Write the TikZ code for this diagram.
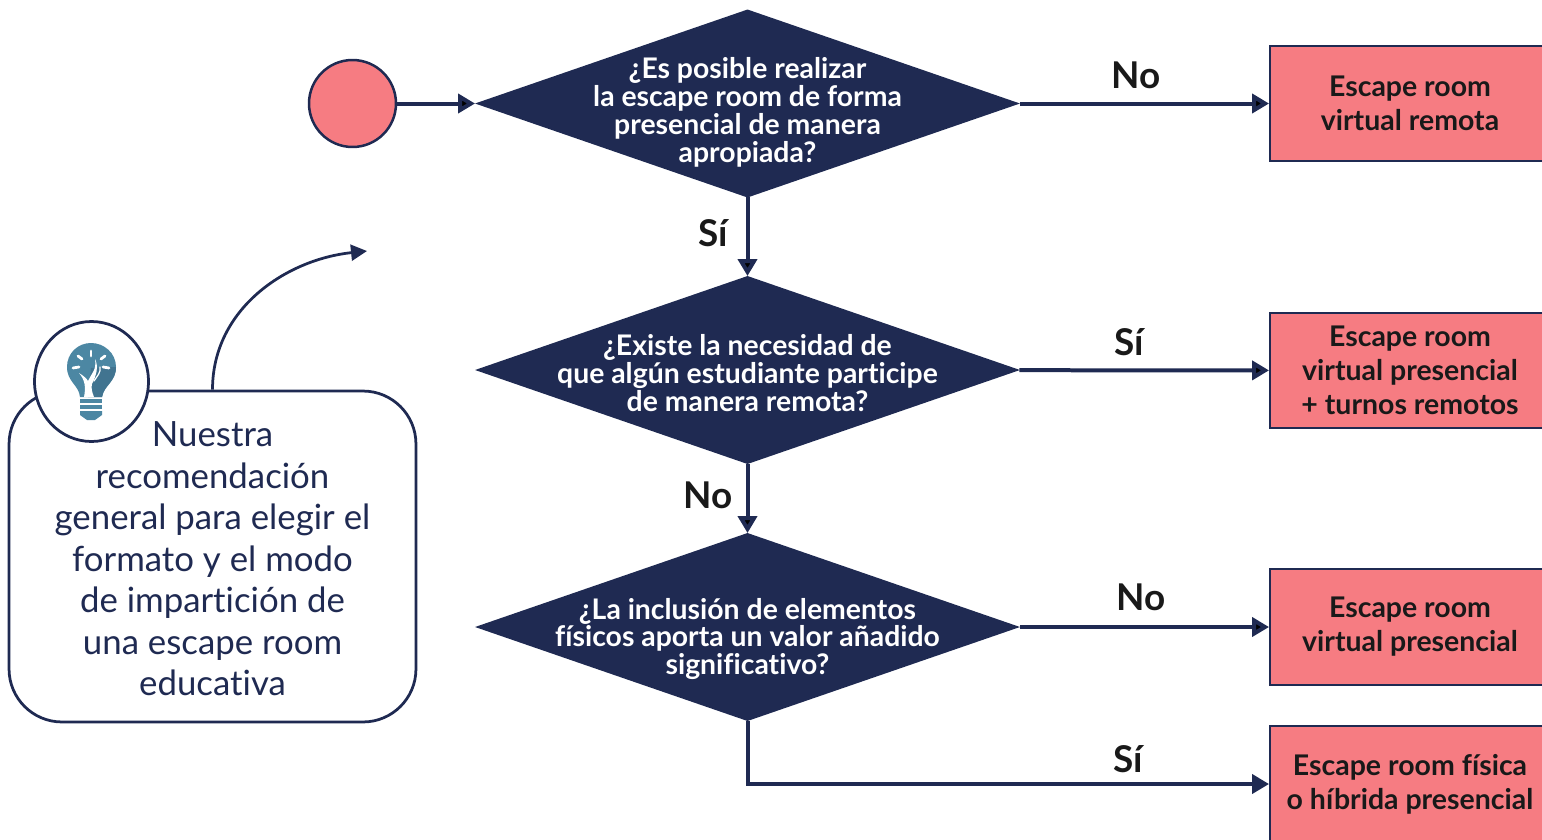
\documentclass[tikz,border=0pt]{standalone}
\usepackage{fontspec}
\setmainfont{Lato}[Ligatures=NoCommon]
\usepackage{tikz}
\usetikzlibrary{arrows.meta,shapes.geometric}

\definecolor{navy}{HTML}{1F2A52}
\definecolor{salmon}{HTML}{F67C82}
\definecolor{bulbteal}{HTML}{4C87A3}
\definecolor{bulbdark}{HTML}{417490}

\tikzset{
	flow/.style={-{Triangle[length=0.34cm,width=0.38cm]}, line width=0.08cm, draw=navy},
	decision/.style={shape=diamond, fill=navy, draw=none, inner sep=0pt, outer sep=0pt, minimum width=10.9cm, minimum height=3.76cm},
	decisiontext/.style={text=white, align=center, font=\fontsize{16.15}{15.9}\selectfont\bfseries},
	result/.style={shape=rectangle, fill=salmon, draw=navy, line width=0.04cm, minimum width=5.6cm, minimum height=2.32cm, align=center, text=black!90, font=\fontsize{16.2}{19.3}\selectfont\bfseries},
	answer/.style={text=black!90, font=\fontsize{21}{24}\selectfont\bfseries},
	notetext/.style={text=navy, align=center, font=\fontsize{19.8}{23.6}\selectfont},
}

\begin{document}
\begin{tikzpicture}[x=0.02cm, y=-0.02cm]
	
	\useasboundingbox (0, 0) rectangle (1542, 839);
	
	\node[shape=circle, fill=salmon, draw=navy, line width=0.05cm, inner sep=0pt, minimum size=1.74cm] (start) at (352.5, 103.5) {};
	
	\node[decision, label={[decisiontext, yshift=-0.18cm]center:{¿Es posible realizar\\la escape room de forma\\presencial de manera\\apropiada?}}] (q1) at (747.5, 103.5) {};
	\node[decision, label={[decisiontext, yshift=-0.07cm]center:{¿Existe la necesidad de\\que algún estudiante participe\\de manera remota?}}] (q2) at (747.5, 370) {};
	\node[decision, label={[decisiontext, yshift=-0.24cm]center:{¿La inclusión de elementos\\físicos aporta un valor añadido\\significativo?}}] (q3) at (747.5, 627) {};
	
	\node[result] (r1) at (1410, 103.5) {Escape room\\virtual remota};
	\node[result] (r2) at (1410, 370.5) {Escape room\\virtual presencial\\+ turnos remotos};
	\node[result] (r3) at (1410, 627) {Escape room\\virtual presencial};
	\node[result] (r4) at (1410, 784) {Escape room física\\o híbrida presencial};
	
	\path[flow] (start) edge (q1);
	\path[flow] (q1) edge node[answer, above, pos=0.465, yshift=0.14cm]{No} (r1);
	\path[flow] (q2) edge node[answer, above, pos=0.44, yshift=0.13cm]{Sí} (r2);
	\path[flow] (q3) edge node[answer, above, pos=0.485, yshift=0.16cm]{No} (r3);
	\path[flow] (q1) edge node[answer, left, pos=0.45, xshift=-0.24cm]{Sí} (q2);
	\path[flow] (q2) edge node[answer, left, pos=0.45, xshift=-0.14cm]{No} (q3);
	\draw[flow] (q3) |- node[answer, above, pos=0.865, yshift=0.07cm]{Sí} (r4);
	
	% note on the left
	\node[shape=rectangle, rounded corners=1.06cm, fill=white, draw=navy, line width=0.055cm, minimum width=8.14cm, minimum height=6.62cm, label={[notetext, yshift=-0.05cm]center:{Nuestra\\recomendación\\general para elegir el\\formato y el modo\\de impartición de\\una escape room\\educativa}}] (note) at (212.5, 556.5) {};
	\coordinate (notetip) at (367, 251);
	\draw[-{Triangle[length=0.32cm,width=0.32cm]}, line width=0.055cm, draw=navy] (note.north) to[out=90, in=186] (notetip);
	\node[shape=ellipse, fill=white, draw=navy, line width=0.055cm, inner sep=0pt, minimum width=2.28cm, minimum height=2.4cm] (bulb) at (91.5, 381.5) {};
	
	% bulb icon
	\fill[bulbteal] (80, 397) .. controls (79, 385) and (67, 382) .. (67, 367) .. controls (67, 353) and (78, 343) .. (91, 343) .. controls (104, 343) and (116, 353) .. (116, 367) .. controls (116, 382) and (104, 385) .. (102, 397) -- cycle;
	\fill[bulbdark] (91, 368) -- (116, 367) .. controls (116, 382) and (104, 385) .. (102, 397) -- (88, 397) -- cycle;
	\fill[white] (84, 397) .. controls (86, 387) and (85, 380) .. (79, 373) .. controls (84, 376) and (87, 379) .. (88, 381) .. controls (91, 374) and (97, 370) .. (95, 359) .. controls (99, 367) and (96, 376) .. (92, 384) .. controls (91, 388) and (92, 392) .. (94, 397) -- cycle;
	\draw[white, line width=0.025cm, line cap=round] (100, 367) .. controls (101, 373) and (97, 376) .. (94, 381);
	\foreach \xa/\ya/\xb/\yb in {91/351/91/356, 78/356/82/359, 105/356/101/359, 73/368/79/367, 109/368/103/367}
		\draw[white, line width=0.055cm, line cap=round] (\xa, \ya) -- (\xb, \yb);
	\fill[bulbteal] (80, 399) rectangle (102, 403);
	\fill[bulbteal] (80, 405) rectangle (102, 409);
	\fill[bulbteal] (80, 411) -- (102, 411) -- (102, 415) -- (95, 420) -- (87, 420) -- (80, 415) -- cycle;
	
\end{tikzpicture}
\end{document}
